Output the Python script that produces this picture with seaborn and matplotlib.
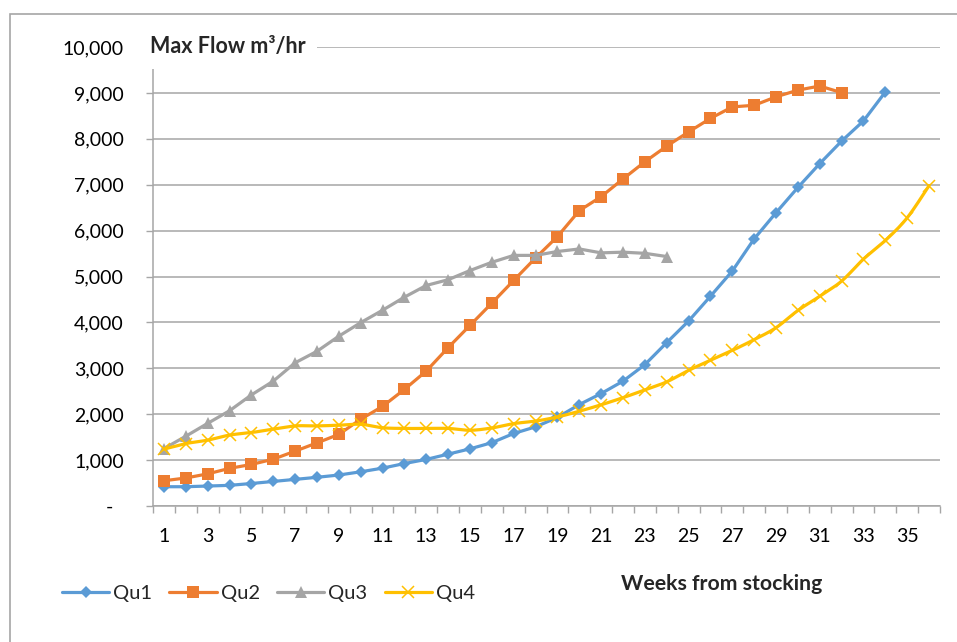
import numpy as np
import pandas as pd
import matplotlib
matplotlib.use("Agg")
import matplotlib.pyplot as plt
import seaborn as sns
from matplotlib.lines import Line2D
from matplotlib.patches import Rectangle
from matplotlib.ticker import FixedLocator, FuncFormatter

# Weekly maximum flow (m3/hr) for each quarter's stocking
weeks_qu1 = list(range(1, 35))
qu1 = [420, 420, 435, 450, 490, 535, 580, 625, 675, 745,
       825, 925, 1015, 1130, 1245, 1380, 1580, 1725, 1930, 2210,
       2450, 2720, 3080, 3560, 4030, 4570, 5120, 5820, 6390, 6940,
       7460, 7950, 8390, 9020]

weeks_qu2 = list(range(1, 33))
qu2 = [550, 610, 700, 820, 905, 1020, 1195, 1375, 1560, 1890,
       2170, 2540, 2940, 3450, 3935, 4420, 4915, 5405, 5870, 6435,
       6740, 7125, 7500, 7840, 8150, 8445, 8695, 8730, 8915, 9060,
       9150, 9005]

weeks_qu3 = list(range(1, 25))
qu3 = [1250, 1520, 1800, 2075, 2420, 2720, 3120, 3370, 3700, 3995,
       4265, 4550, 4805, 4930, 5130, 5310, 5460, 5460, 5545, 5600,
       5515, 5530, 5505, 5435]

weeks_qu4 = list(range(1, 37))
qu4 = [1240, 1360, 1435, 1545, 1600, 1675, 1745, 1745, 1760, 1780,
       1705, 1690, 1690, 1690, 1650, 1700, 1795, 1850, 1940, 2065,
       2205, 2360, 2530, 2705, 2955, 3175, 3390, 3625, 3885, 4260,
       4570, 4900, 5380, 5785, 6280, 6980]

series_names = ["Qu1", "Qu2", "Qu3", "Qu4"]
colors = {"Qu1": "#5B9BD5", "Qu2": "#ED7D31", "Qu3": "#A5A5A5", "Qu4": "#FFC000"}
x_tick_labels = [str(w) for w in range(1, 36, 2)]
y_ticks = list(range(0, 10001, 1000))

df = pd.concat([
    pd.DataFrame({"Week": weeks_qu1, "Flow": qu1, "Series": "Qu1"}),
    pd.DataFrame({"Week": weeks_qu2, "Flow": qu2, "Series": "Qu2"}),
    pd.DataFrame({"Week": weeks_qu3, "Flow": qu3, "Series": "Qu3"}),
], ignore_index=True)


def smooth_curve(x, y, n=20):
    """Catmull-Rom style Bezier smoothing through every point."""
    x = np.asarray(x, float)
    y = np.asarray(y, float)
    P = np.column_stack([x, y])
    Pp = np.vstack([P[0], P, P[-1]])
    out = []
    t = np.linspace(0, 1, n, endpoint=False)[:, None]
    for i in range(len(P) - 1):
        p0, p1, p2, p3 = Pp[i], Pp[i + 1], Pp[i + 2], Pp[i + 3]
        b1 = p1 + (p2 - p0) / 6.0
        b2 = p2 - (p3 - p1) / 6.0
        seg = ((1 - t) ** 3) * p1 + 3 * ((1 - t) ** 2) * t * b1 \
            + 3 * (1 - t) * t ** 2 * b2 + t ** 3 * p2
        out.append(seg)
    out.append(P[-1][None, :])
    c = np.vstack(out)
    return c[:, 0], c[:, 1]


sns.set_theme(style="white")
plt.rcParams["font.family"] = ["Lato", "DejaVu Sans"]

W, H = 957, 642
fig = plt.figure(figsize=(W / 100, H / 100), dpi=100)
ax = fig.add_axes([153 / W, 1 - 506 / H, (940 - 153) / W, (506 - 47) / H])

grid_c = "#a6a6a6"
lw = 2.3

sns.lineplot(data=df, x="Week", y="Flow", hue="Series", style="Series",
             palette=colors, markers={"Qu1": "D", "Qu2": "s", "Qu3": "^"},
             dashes=False, linewidth=lw, markersize=8.3, markeredgewidth=0,
             legend=False, ax=ax, zorder=3)
# Diamonds come out larger than squares at the same point size
for line in ax.lines:
    if line.get_marker() == "D":
        line.set_markersize(6.5)

# Qu4 drawn as a smoothed line with cross markers
sx, sy = smooth_curve(weeks_qu4, qu4)
ax.plot(sx, sy, color=colors["Qu4"], lw=lw, zorder=3)
ax.plot(weeks_qu4, qu4, ls="none", marker="x", ms=8.5, mew=1.1,
        color=colors["Qu4"], zorder=4)

ax.set_xlim(0.5, 36.5)
ax.set_ylim(0, 10000)
ax.set_xlabel("")
ax.set_ylabel("")

ax.xaxis.set_major_locator(FixedLocator(list(range(1, 36, 2))))
ax.set_xticklabels(x_tick_labels)
ax.xaxis.set_minor_locator(FixedLocator(np.arange(0.5, 37, 1.0)))
ax.yaxis.set_major_locator(FixedLocator(y_ticks))
ax.yaxis.set_major_formatter(FuncFormatter(
    lambda v, p: "-  " if v == 0 else f"{int(v):,}"))

ax.tick_params(axis="x", which="major", length=0, pad=16, labelsize=14,
               labelcolor="#000000")
ax.tick_params(axis="x", which="minor", length=5, width=1, color=grid_c,
               direction="out", bottom=True)
ax.tick_params(axis="y", which="major", length=5, width=1, color=grid_c,
               direction="out", left=True, pad=16, labelsize=14,
               labelcolor="#000000")

ax.grid(axis="y", color=grid_c, lw=1.1)
ax.grid(axis="x", visible=False)
for side in ["top", "right"]:
    ax.spines[side].set_visible(False)
for side in ["left", "bottom"]:
    ax.spines[side].set_color(grid_c)
    ax.spines[side].set_linewidth(1.1)

# Axis titles
fig.text(150 / W, 1 - 47 / H, "Max Flow m³/hr", fontsize=15.5,
         fontweight="bold", ha="left", va="center", zorder=10,
         bbox=dict(facecolor="white", edgecolor="none", pad=8))
fig.text(722 / W, 1 - 584 / H, "Weeks from stocking", fontsize=15.3,
         fontweight="bold", ha="center", va="center")

# Legend
handles = [
    Line2D([], [], color=colors["Qu1"], lw=lw, marker="D", ms=6.3, mew=0),
    Line2D([], [], color=colors["Qu2"], lw=lw, marker="s", ms=8.3, mew=0),
    Line2D([], [], color=colors["Qu3"], lw=lw, marker="^", ms=8.3, mew=0),
    Line2D([], [], color=colors["Qu4"], lw=lw, marker="x", ms=8.5, mew=1.1),
]
fig.legend(handles, series_names, loc="center left",
           bbox_to_anchor=(62 / W, 1 - 593 / H), ncol=4, frameon=False,
           fontsize=14.5, handlelength=2.35, handletextpad=0.2,
           columnspacing=0.85, borderaxespad=0, borderpad=0)

# Chart frame
fig.patches.append(Rectangle((10 / W, -0.1), 2.0, 1 - 14 / H + 0.1,
                             transform=fig.transFigure, fill=False,
                             edgecolor="#a6a6a6", lw=1.2))

fig.savefig("out.png", dpi=100)
